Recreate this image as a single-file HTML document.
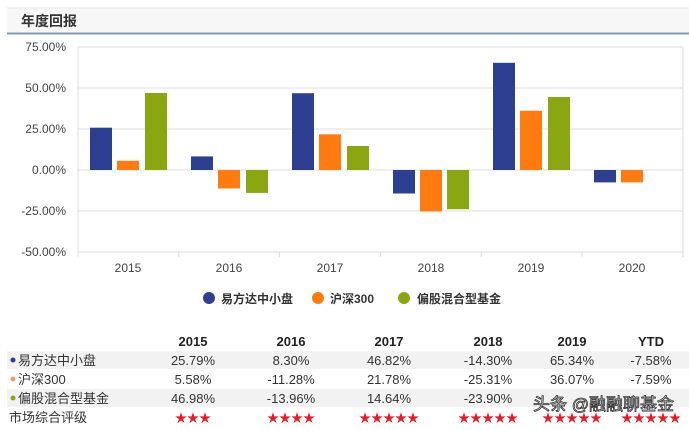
<!DOCTYPE html>
<html><head><meta charset="utf-8"><style>
body{margin:0;background:#fff;width:689px;height:425px;overflow:hidden;font-family:"Liberation Sans","Noto Sans CJK SC",sans-serif}
</style></head><body>
<svg width="689" height="425" xmlns="http://www.w3.org/2000/svg" font-family="Liberation Sans, Noto Sans CJK SC, sans-serif">
<line x1="7" y1="8" x2="689" y2="8" stroke="#e2e2e2"/>
<rect x="7" y="9" width="682" height="24" fill="#f7f7f7"/>
<text x="21" y="26" font-size="14" font-weight="bold" fill="#333">年度回报</text>
<line x1="7" y1="33.5" x2="689" y2="33.5" stroke="#7f9bb5" stroke-width="2"/>
<g stroke="#ddd">
<line x1="78" y1="47" x2="683" y2="47"/>
<line x1="78" y1="88" x2="683" y2="88"/>
<line x1="78" y1="129" x2="683" y2="129"/>
<line x1="78" y1="170" x2="683" y2="170"/>
<line x1="78" y1="211" x2="683" y2="211"/>
<line x1="78" y1="252" x2="683" y2="252"/>
<line x1="78" y1="47" x2="78" y2="252"/>
<line x1="683" y1="47" x2="683" y2="257"/>
<line x1="178.8" y1="252" x2="178.8" y2="257"/><line x1="279.6" y1="252" x2="279.6" y2="257"/><line x1="380.4" y1="252" x2="380.4" y2="257"/><line x1="481.2" y1="252" x2="481.2" y2="257"/><line x1="582" y1="252" x2="582" y2="257"/><line x1="78" y1="252" x2="78" y2="257"/>
</g>
<g font-size="12" fill="#444" text-anchor="end">
<text x="66" y="51">75.00%</text><text x="66" y="92">50.00%</text><text x="66" y="133">25.00%</text><text x="66" y="174">0.00%</text><text x="66" y="215">-25.00%</text><text x="66" y="256">-50.00%</text>
</g>
<g font-size="12" fill="#444" text-anchor="middle">
<text x="128" y="272">2015</text><text x="229" y="272">2016</text><text x="330" y="272">2017</text><text x="431" y="272">2018</text><text x="531" y="272">2019</text><text x="632" y="272">2020</text>
</g>
<g fill="#2e3f92">
<rect x="90" y="127.7" width="22" height="42.3"/>
<rect x="191" y="156.4" width="22" height="13.6"/>
<rect x="292" y="93.2" width="22" height="76.8"/>
<rect x="393" y="170" width="22" height="23.5"/>
<rect x="493" y="62.8" width="22" height="107.2"/>
<rect x="594" y="170" width="22" height="12.4"/>
</g>
<g fill="#ff7b0f">
<rect x="117" y="160.8" width="22" height="9.2"/>
<rect x="218" y="170" width="22" height="18.5"/>
<rect x="319" y="134.3" width="22" height="35.7"/>
<rect x="420" y="170" width="22" height="41.5"/>
<rect x="520" y="110.8" width="22" height="59.2"/>
<rect x="621" y="170" width="22" height="12.4"/>
</g>
<g fill="#8aa610">
<rect x="145" y="93" width="22" height="77"/>
<rect x="246" y="170" width="22" height="22.9"/>
<rect x="347" y="146" width="22" height="24"/>
<rect x="447" y="170" width="22" height="39.2"/>
<rect x="548" y="97" width="22" height="73"/>
</g>
<g font-size="12" font-weight="bold" fill="#333">
<circle cx="209" cy="298" r="6" fill="#2e3f92"/><text x="221" y="303">易方达中小盘</text>
<circle cx="318" cy="298" r="6" fill="#ff7b0f"/><text x="330" y="303">沪深300</text>
<circle cx="404" cy="298" r="6" fill="#8aa610"/><text x="417" y="303">偏股混合型基金</text>
</g>
<rect x="7" y="351" width="682" height="18" fill="#f2f2f2"/>
<rect x="7" y="389" width="682" height="18" fill="#f2f2f2"/>
<g font-size="13" font-weight="bold" fill="#222" text-anchor="middle">
<text x="193" y="346">2015</text><text x="291" y="346">2016</text><text x="389" y="346">2017</text><text x="488" y="346">2018</text><text x="572" y="346">2019</text><text x="651" y="346">YTD</text>
</g>
<g font-size="13" fill="#333">
<circle cx="13" cy="360" r="2.5" fill="#2e3f92"/><text x="18" y="365">易方达中小盘</text>
<circle cx="13" cy="379" r="2.5" fill="#f0a060"/><text x="18" y="384">沪深300</text>
<circle cx="13" cy="398" r="2.5" fill="#8aa610"/><text x="18" y="403">偏股混合型基金</text>
<text x="9" y="422">市场综合评级</text>
</g>
<g font-size="13" fill="#333" text-anchor="middle">
<text x="193" y="365">25.79%</text><text x="291" y="365">8.30%</text><text x="389" y="365">46.82%</text><text x="488" y="365">-14.30%</text><text x="572" y="365">65.34%</text><text x="651" y="365">-7.58%</text>
<text x="193" y="384">5.58%</text><text x="291" y="384">-11.28%</text><text x="389" y="384">21.78%</text><text x="488" y="384">-25.31%</text><text x="572" y="384">36.07%</text><text x="651" y="384">-7.59%</text>
<text x="193" y="403">46.98%</text><text x="291" y="403">-13.96%</text><text x="389" y="403">14.64%</text><text x="488" y="403">-23.90%</text>
</g>
<g font-size="12" fill="#e0202a" text-anchor="middle">
<text x="193" y="422">★★★</text><text x="291" y="422">★★★★</text><text x="389" y="422">★★★★★</text><text x="488" y="422">★★★★★</text><text x="572" y="422">★★★★★</text><text x="651" y="422">★★★★★</text>
</g>
<text x="533" y="410" font-size="17" fill="#fff" stroke="#333" stroke-width="0.8">头条 @融融聊基金</text>
</svg>
</body></html>
